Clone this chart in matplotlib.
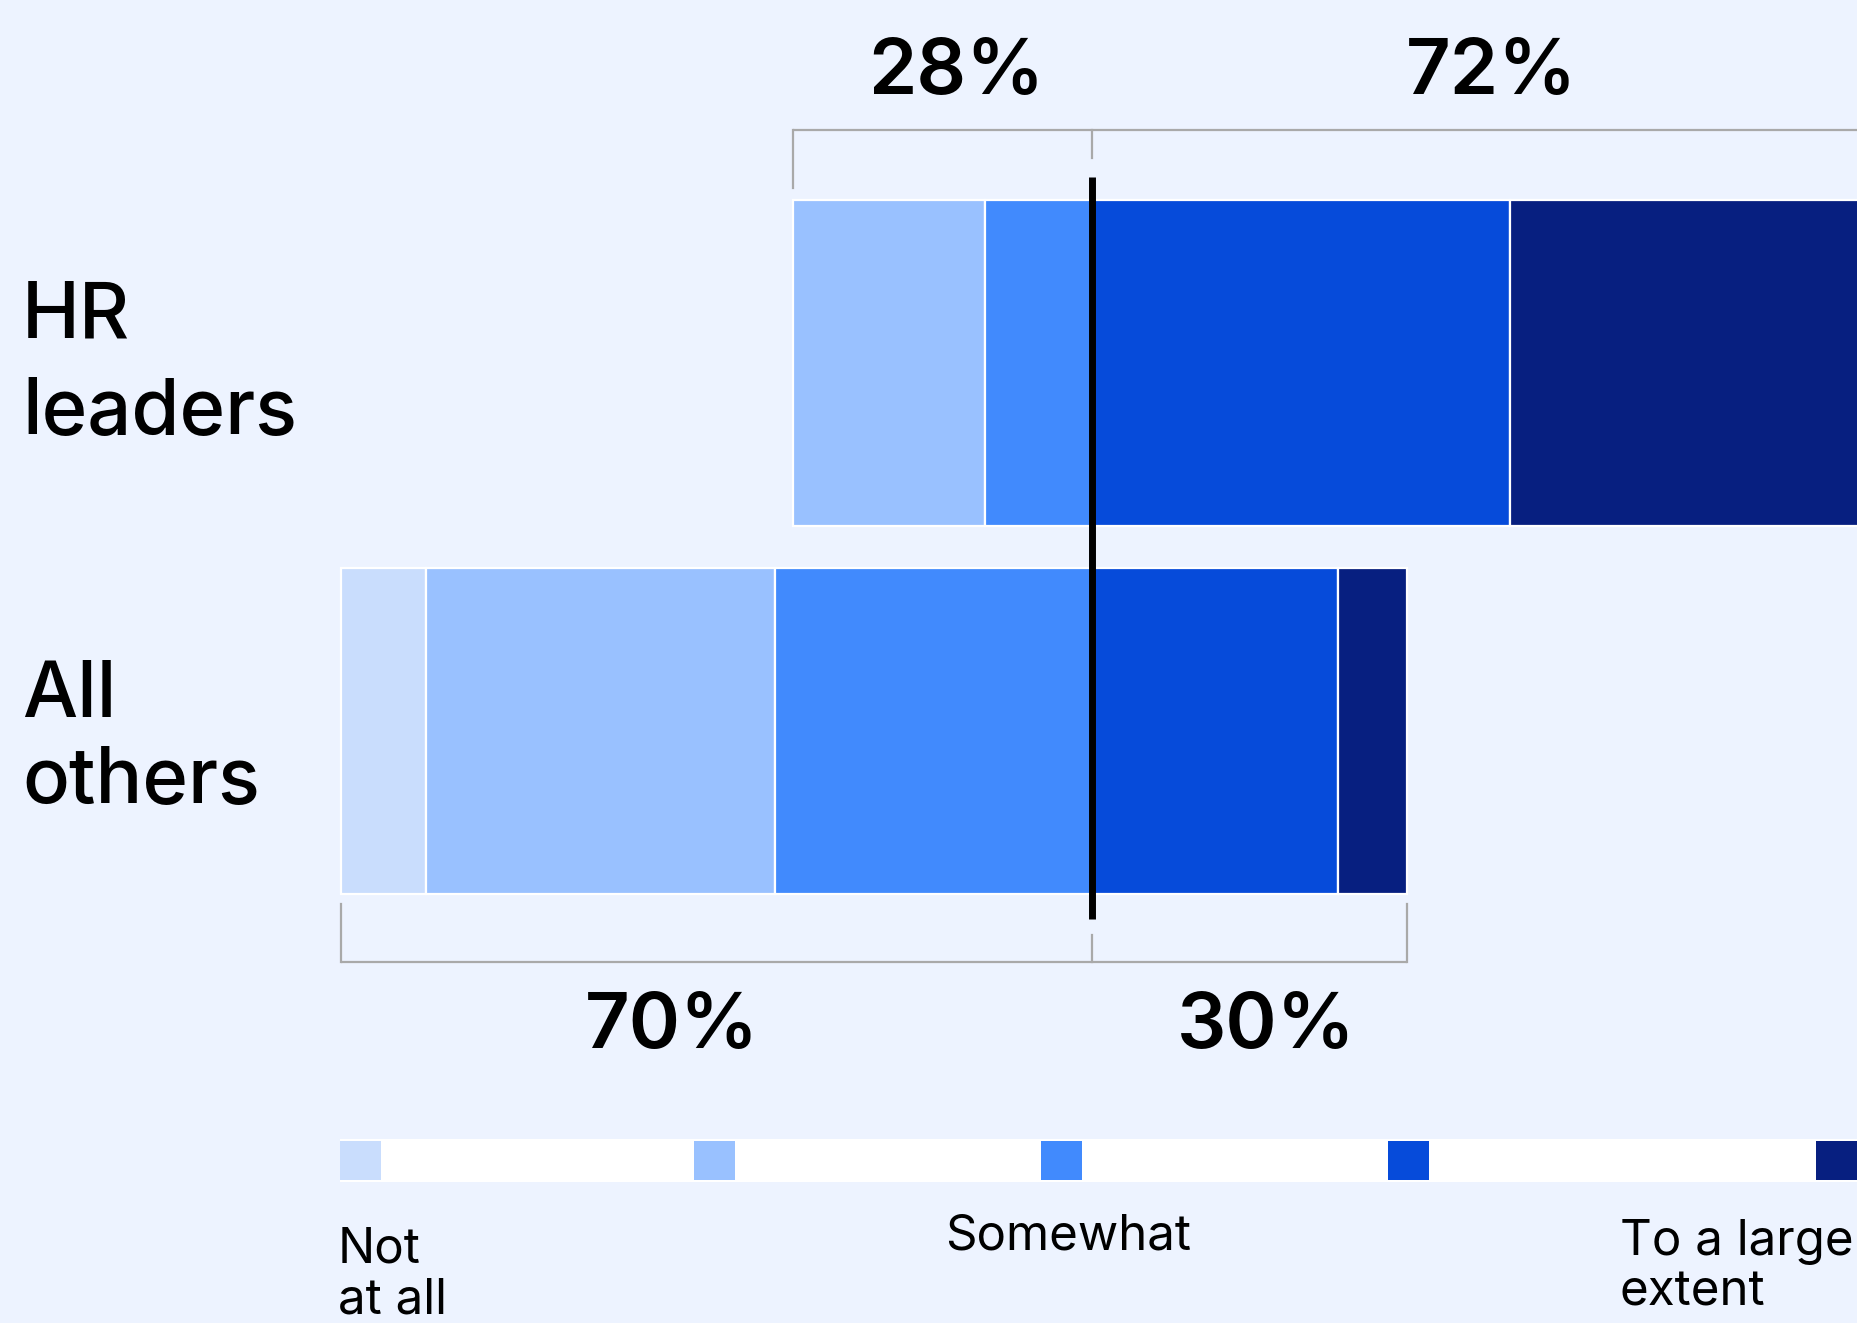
import matplotlib
matplotlib.use("Agg")
import matplotlib.pyplot as plt
from matplotlib.patches import Rectangle
from matplotlib.transforms import Affine2D

# ---- data ----
groups = ["HR\nleaders", "All\nothers"]
not_at_all = [0, 7.9]
low = [18, 32.6]
somewhat = [10, 29.7]
high = [39, 23]
large_extent = [33, 6.4]
neg_labels = ["28%", "70%"]
pos_labels = ["72%", "30%"]
legend_labels = ["Not\nat all", "Somewhat", "To a large\nextent"]

colors = ["#C9DDFD", "#99C1FF", "#418AFD", "#064BDA", "#071F80"]
BG = "#EDF3FF"
GRAY = "#A9A9A9"

plt.rcParams["font.family"] = ["Inter", "DejaVu Sans"]

W, H = 1857, 1323
fig = plt.figure(figsize=(W / 100, H / 100), dpi=100, facecolor=BG)
ax = fig.add_axes([0, 0, 1, 1])
ax.set_facecolor(BG)
ax.axis("off")

# pixel-based transform for free layout text (y downwards)
px = Affine2D().scale(1 / W, -1 / H).translate(0, 1) + fig.transFigure

# scales: x in percent, y in category units
ax.set_xlim(-1092.3 / 10.7, (W - 1092.3) / 10.7)
ax.set_ylim((H - 363) / 368, -363 / 368)

series = [not_at_all, low, somewhat, high, large_extent]
bar_h = 0.885
for i in range(len(groups)):
    neg_total = not_at_all[i] + low[i] + somewhat[i]
    left = -neg_total
    for s, c in zip(series, colors):
        v = s[i]
        if v > 0:
            ax.barh(i, v, left=left, height=bar_h, color=c,
                    edgecolor="white", linewidth=1.6, zorder=2)
        left += v

# brackets
half = bar_h / 2
lw_br = 1.6
for i in range(len(groups)):
    neg_total = not_at_all[i] + low[i] + somewhat[i]
    pos_total = high[i] + large_extent[i]
    if i == 0:
        edge = i - half
        yl = edge - 0.19
        yt = edge - 0.034
        yc = edge - 0.115
    else:
        edge = i + half
        yl = edge + 0.186
        yt = edge + 0.028
        yc = edge + 0.112
    ax.plot([-neg_total, pos_total], [yl, yl], color=GRAY, lw=lw_br,
            solid_capstyle="butt", zorder=1)
    ax.plot([-neg_total, -neg_total], [yl, yt], color=GRAY, lw=lw_br, zorder=1)
    ax.plot([pos_total, pos_total], [yl, yt], color=GRAY, lw=lw_br, zorder=1)
    ax.plot([0, 0], [yl, yc], color=GRAY, lw=lw_br, zorder=1)

# center divider line
ax.plot([0, 0], [-0.505, 1.511], color="black", lw=5.0,
        solid_capstyle="butt", zorder=4)

# percentage labels
lab_x = [[-12.7, 37.3], [-39.3, 16.3]]
lab_y = [-0.730, 1.861]
for i in range(len(groups)):
    ax.text(lab_x[i][0], lab_y[i], neg_labels[i], ha="center", va="baseline",
            fontsize=56, fontweight=600, color="black")
    ax.text(lab_x[i][1], lab_y[i], pos_labels[i], ha="center", va="baseline",
            fontsize=56, fontweight=600, color="black")

# group labels (baseline of last line)
grp_baseline = [434, 803]
grp_spacing = [1.41, 1.23]
for i, g in enumerate(groups):
    ax.text(22, grp_baseline[i], g, transform=px, ha="left", va="baseline",
            fontsize=56, fontweight=500, linespacing=grp_spacing[i],
            color="black")

# legend strip
lax = fig.add_axes([340 / W, 1 - 1182 / H, (W - 340) / W, 43 / H])
lax.set_xlim(0, 1)
lax.set_ylim(0, 1)
lax.axis("off")
lax.add_patch(Rectangle((0, 0), 1, 1, facecolor="white", edgecolor="none"))
sw_pos = [0.0, 0.2334, 0.462, 0.691, 0.973]
sw_w = 0.027
for p, c in zip(sw_pos, colors):
    lax.add_patch(Rectangle((p, 0.04), sw_w, 0.92, facecolor=c,
                            edgecolor="none"))

ax.text(338, 1314, legend_labels[0], transform=px, ha="left", va="baseline",
        fontsize=35.5, linespacing=1.15, color="black")
ax.text(1068, 1250, legend_labels[1], transform=px, ha="center", va="baseline",
        fontsize=35.5, linespacing=1.15, color="black")
ax.text(1620, 1306, legend_labels[2], transform=px, ha="left", va="baseline",
        fontsize=35.5, linespacing=1.15, color="black")

fig.savefig("out.png", dpi=100, facecolor=BG)
